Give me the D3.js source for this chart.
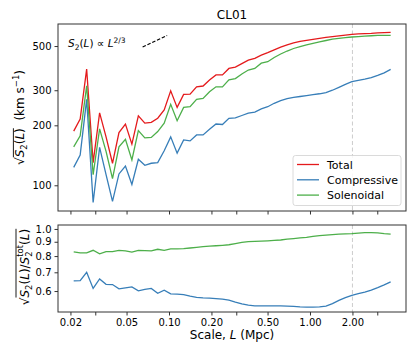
<!DOCTYPE html>
<html>
<head>
<meta charset="utf-8">
<script src="https://cdn.jsdelivr.net/npm/d3@7"></script>
<style>
  body { margin: 0; background: #fff; }
  svg text { font-family: "DejaVu Sans", sans-serif; fill: #000; }
</style>
</head>
<body>
<div class="chart"></div>
<script>
// scale L (Mpc)
var scaleL = [0.02109, 0.02344, 0.02606, 0.02897, 0.03220, 0.03577, 0.03975, 0.04417, 0.04909, 0.05455,
              0.06062, 0.06738, 0.07487, 0.08318, 0.09245, 0.1028, 0.1142, 0.1270, 0.1411, 0.1569,
              0.1744, 0.1938, 0.2154, 0.2394, 0.2660, 0.2956, 0.3286, 0.3652, 0.4060, 0.4512,
              0.5015, 0.5572, 0.6193, 0.6883, 0.7650, 0.8502, 0.9449, 1.050, 1.168, 1.298,
              1.443, 1.603, 1.782, 1.981, 2.201, 2.447, 2.720, 3.022, 3.359, 3.733];

// sqrt(S2) in km/s
var total = [187, 215, 383, 130, 231, 175, 129, 184, 203, 161,
             223, 205, 207, 217, 239, 298, 246, 286, 287, 312,
             315, 338, 358, 358, 386, 392, 408, 425, 434, 450,
             463, 478, 494, 507, 518, 527, 534, 540, 546, 552,
             557, 562, 567, 572, 575, 577, 579, 582, 584, 586];
var compressive = [123, 142, 270, 82, 155, 113, 83, 114, 125, 101,
                   135, 126, 129, 130, 149, 175, 145, 169, 167, 179,
                   179, 191, 203, 202, 217, 218, 224, 230, 233, 242,
                   248, 258, 266, 272, 276, 279, 282, 285, 288, 292,
                   300, 310, 321, 331, 336, 341, 347, 356, 367, 382];
var solenoidal = [156, 177, 316, 113, 192, 148, 108, 156, 170, 134,
                  188, 173, 174, 186, 205, 255, 211, 246, 248, 270,
                  273, 295, 312, 312, 338, 343, 362, 379, 386, 410,
                  417, 438, 456, 472, 486, 497, 507, 516, 525, 533,
                  541, 546, 551, 555, 558, 561, 563, 565, 566, 566];

// ratios to total
var compRatio = [0.652, 0.654, 0.700, 0.613, 0.663, 0.634, 0.633, 0.611, 0.616, 0.621,
                 0.601, 0.608, 0.613, 0.589, 0.604, 0.586, 0.585, 0.583, 0.575, 0.570,
                 0.567, 0.566, 0.564, 0.561, 0.557, 0.548, 0.540, 0.534, 0.531, 0.531,
                 0.531, 0.531, 0.531, 0.530, 0.529, 0.527, 0.526, 0.526, 0.527, 0.530,
                 0.541, 0.556, 0.568, 0.579, 0.587, 0.595, 0.605, 0.617, 0.631, 0.647];
var solRatio = [0.828, 0.821, 0.821, 0.839, 0.815, 0.830, 0.830, 0.839, 0.835, 0.826,
                0.839, 0.837, 0.835, 0.846, 0.839, 0.849, 0.849, 0.850, 0.855, 0.860,
                0.864, 0.868, 0.871, 0.874, 0.878, 0.886, 0.895, 0.901, 0.903, 0.905,
                0.907, 0.910, 0.913, 0.919, 0.924, 0.929, 0.933, 0.940, 0.946, 0.951,
                0.955, 0.958, 0.961, 0.963, 0.967, 0.970, 0.970, 0.968, 0.962, 0.958];

// L^(1/3) guide line
var guideL = [0.065, 0.097];
var guideV = [494, 565];

var xTicks = [0.02, 0.03, 0.05, 0.1, 0.2, 0.3, 0.5, 1, 2, 3];
var xTickLabels = { 0.02: '0.02', 0.05: '0.05', 0.1: '0.10', 0.2: '0.20', 0.5: '0.50', 1: '1.00', 2: '2.00' };
var yTopTicks = [100, 200, 300, 500];
var yBotTicks = [0.6, 0.7, 0.8, 0.9, 1.0];
var seriesNames = ['Total', 'Compressive', 'Solenoidal'];
var colors = { Total: '#e41a1c', Compressive: '#377eb8', Solenoidal: '#4daf4a' };

var svg = d3.select('.chart').append('svg')
            .attr('width', 415)
            .attr('height', 356);

var L = 58, R = 406;
var x = d3.scaleLog().domain([0.01632, 4.796]).range([L, R]);
var yTop = d3.scaleLog().domain([74.3, 645]).range([211, 24]);
var yBot = d3.scaleLog().domain([0.505, 1.033]).range([312, 225]);

function drawAxes(g, y, yTicks, yFmt, showX) {
  g.append('g')
    .attr('transform', 'translate(0,' + y.range()[0] + ')')
    .call(d3.axisBottom(x).tickValues(xTicks).tickSize(3.5).tickPadding(3)
      .tickFormat(function(d){ return showX ? (xTickLabels[d] || '') : ''; }))
    .call(function(a){ a.select('.domain').remove(); a.selectAll('line').attr('stroke', '#333'); a.selectAll('text').attr('font-size', '10px').attr('fill', '#000'); });
  g.append('g')
    .attr('transform', 'translate(' + L + ',0)')
    .call(d3.axisLeft(y).tickValues(yTicks).tickSize(3.5).tickPadding(3).tickFormat(yFmt))
    .call(function(a){ a.select('.domain').remove(); a.selectAll('line').attr('stroke', '#333'); a.selectAll('text').attr('font-size', '10px').attr('fill', '#000'); });
  g.append('rect')
    .attr('x', L).attr('y', y.range()[1])
    .attr('width', R - L).attr('height', y.range()[0] - y.range()[1])
    .attr('fill', 'none').attr('stroke', '#333').attr('stroke-width', 1);
}

// vertical dashed line at 2 Mpc
[yTop, yBot].forEach(function(y){
  svg.append('line')
    .attr('x1', x(2)).attr('x2', x(2))
    .attr('y1', y.range()[1]).attr('y2', y.range()[0])
    .attr('stroke', '#cccccc').attr('stroke-width', 1).attr('stroke-dasharray', '4,2.5');
});

function drawLine(y, values, color) {
  var line = d3.line()
    .x(function(d, i){ return x(scaleL[i]); })
    .y(function(d){ return y(d); });
  svg.append('path')
    .datum(values)
    .attr('d', line)
    .attr('fill', 'none')
    .attr('stroke', color)
    .attr('stroke-width', 1.3);
}

drawLine(yTop, total, colors.Total);
drawLine(yTop, compressive, colors.Compressive);
drawLine(yTop, solenoidal, colors.Solenoidal);
drawLine(yBot, solRatio, colors.Solenoidal);
drawLine(yBot, compRatio, colors.Compressive);

drawAxes(svg.append('g'), yTop, yTopTicks, function(d){ return d; }, false);
drawAxes(svg.append('g'), yBot, yBotTicks, d3.format('.1f'), true);

// guide line
svg.append('line')
  .attr('x1', x(guideL[0])).attr('y1', yTop(guideV[0]))
  .attr('x2', x(guideL[1])).attr('y2', yTop(guideV[1]))
  .attr('stroke', '#000').attr('stroke-width', 1.2).attr('stroke-dasharray', '3.5,1.8');

var ann = svg.append('text').attr('x', 68).attr('y', 47).attr('font-size', '10.5px');
ann.append('tspan').attr('font-style', 'italic').text('S');
ann.append('tspan').attr('font-size', '7.5px').attr('dy', 2.5).text('2');
ann.append('tspan').attr('dy', -2.5).text('(');
ann.append('tspan').attr('font-style', 'italic').text('L');
ann.append('tspan').text(') \u221d ');
ann.append('tspan').attr('font-style', 'italic').text('L');
ann.append('tspan').attr('font-size', '7.5px').attr('dy', -4.5).text('2/3');

// title
svg.append('text').attr('x', 232).attr('y', 19).attr('text-anchor', 'middle')
  .attr('font-size', '12px').text('CL01');

// legend
var lg = svg.append('g');
lg.append('rect').attr('x', 293).attr('y', 155.5).attr('width', 108).attr('height', 50)
  .attr('rx', 2.5).attr('fill', '#fff').attr('fill-opacity', 0.85)
  .attr('stroke', '#d0d0d0').attr('stroke-width', 0.8);
seriesNames.forEach(function(n, i){
  var yy = 164.5 + i * 15.3;
  lg.append('line').attr('x1', 297).attr('x2', 319).attr('y1', yy).attr('y2', yy)
    .attr('stroke', colors[n]).attr('stroke-width', 1.3);
  lg.append('text').attr('x', 327).attr('y', yy + 4).attr('font-size', '11px').text(n);
});

// x label
var xl = svg.append('text').attr('x', 232).attr('y', 339).attr('text-anchor', 'middle').attr('font-size', '12px');
xl.append('tspan').text('Scale, ');
xl.append('tspan').attr('font-style', 'italic').text('L');
xl.append('tspan').text(' (Mpc)');

// top y label
var g1 = svg.append('g').attr('transform', 'translate(24,117.5) rotate(-90)');
var t1 = g1.append('text').attr('x', 0).attr('y', 0).attr('font-size', '12px');
t1.append('tspan').text('\u221a');
t1.append('tspan').attr('font-style', 'italic').text('S');
t1.append('tspan').attr('font-size', '8.5px').attr('dy', 3).text('2');
t1.append('tspan').attr('dy', -3).text('(');
t1.append('tspan').attr('font-style', 'italic').text('L');
t1.append('tspan').text(')');
t1.append('tspan').text('\u00a0\u00a0(km s');
t1.append('tspan').attr('font-size', '8.5px').attr('dy', -5).text('\u22121');
t1.append('tspan').attr('dy', 5).text(')');
var w1 = t1.node().getComputedTextLength();
t1.attr('x', -w1 / 2);
var n1 = t1.node();
var ov1a = n1.getStartPositionOfChar(1).x, ov1b = n1.getEndPositionOfChar(5).x;
g1.append('line').attr('x1', ov1a).attr('x2', ov1b).attr('y1', -10.6).attr('y2', -10.6)
  .attr('stroke', '#000').attr('stroke-width', 0.9);

// bottom y label
var g2 = svg.append('g').attr('transform', 'translate(29,267) rotate(-90)');
var t2 = g2.append('text').attr('x', 0).attr('y', 0).attr('font-size', '12px');
t2.append('tspan').text('\u221a');
t2.append('tspan').attr('font-style', 'italic').text('S');
t2.append('tspan').attr('font-size', '8.5px').attr('dy', 3).text('2');
t2.append('tspan').attr('dy', -3).text('(');
t2.append('tspan').attr('font-style', 'italic').text('L');
t2.append('tspan').text(')/');
t2.append('tspan').attr('font-style', 'italic').text('S');
t2.append('tspan').attr('font-size', '8.5px').attr('dy', 3).text('2');
t2.append('tspan').attr('font-size', '8.5px').attr('dx', -5.4).attr('dy', -9).text('tot');
t2.append('tspan').attr('dy', 6).text('(');
t2.append('tspan').attr('font-style', 'italic').text('L');
t2.append('tspan').text(')');
var w2 = t2.node().getComputedTextLength();
var n2 = t2.node();
var nch = n2.getNumberOfChars();
var ext = n2.getEndPositionOfChar(nch - 1).x;
t2.attr('x', -ext / 2);
var ov2a = n2.getStartPositionOfChar(1).x, ov2b = n2.getEndPositionOfChar(nch - 1).x;
g2.append('line').attr('x1', ov2a).attr('x2', ov2b).attr('y1', -13).attr('y2', -13)
  .attr('stroke', '#000').attr('stroke-width', 0.9);
</script>
</body>
</html>
